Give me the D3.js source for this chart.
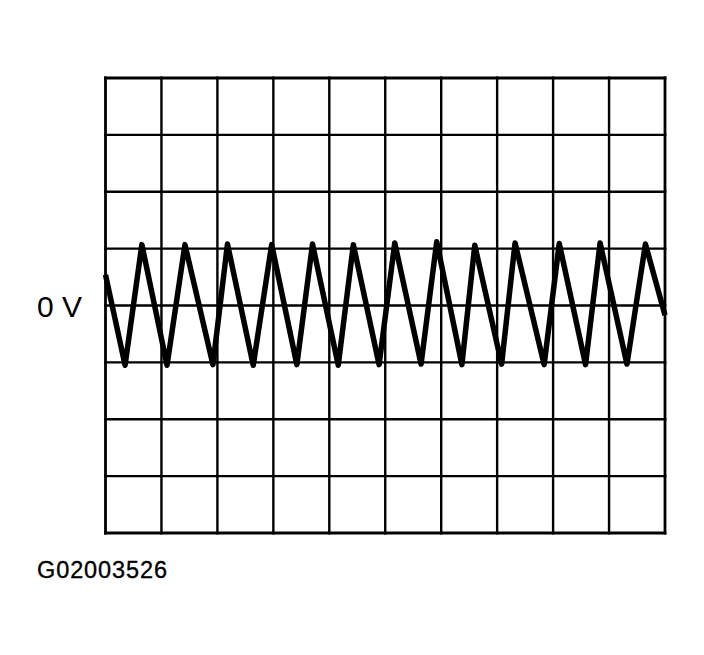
<!DOCTYPE html>
<html>
<head>
<meta charset="utf-8">
<script src="https://cdn.jsdelivr.net/npm/d3@7"></script>
<style>
  body { margin: 0; background: #fff; }
  svg { display: block; }
  text { font-family: "Liberation Sans", Arial, sans-serif; fill: #000; }
</style>
</head>
<body>
<svg id="chart"></svg>
<script>
// grid divisions (time and voltage)
const timeDivs = [0, 1, 2, 3, 4, 5, 6, 7, 8, 9, 10];
const voltDivs = [-4, -3, -2, -1, 0, 1, 2, 3, 4];

// waveform (x in divisions, y in divisions)
const waveX = [0, 0.35, 0.65, 1.10, 1.42, 1.92, 2.18, 2.64, 2.97, 3.42, 3.70, 4.16, 4.43, 4.89,
               5.17, 5.64, 5.92, 6.37, 6.60, 7.08, 7.32, 7.84, 8.11, 8.58, 8.84, 9.32, 9.65, 10.0];
const waveY = [0.54, -1.05, 1.07, -1.05, 1.07, -1.04, 1.08, -1.05, 1.07, -1.04, 1.08, -1.05, 1.07, -1.04,
               1.10, -1.03, 1.12, -1.04, 1.06, -1.03, 1.10, -1.04, 1.09, -1.04, 1.10, -1.03, 1.08, -0.17];

const zeroLabel = "0 V";
const figureId = "G02003526";

const width = 704, height = 655;
const svg = d3.select("#chart").attr("width", width).attr("height", height);

const x = d3.scaleLinear().domain([0, 10]).range([105.5, 665]);
const y = d3.scaleLinear().domain([-4, 4]).range([533, 78]);

// grid
svg.append("g")
    .selectAll("line")
    .data(timeDivs)
    .enter()
    .append("line")
    .attr("x1", d => x(d))
    .attr("x2", d => x(d))
    .attr("y1", y(-4) + 1.4)
    .attr("y2", y(4) - 1.4)
    .attr("stroke", "#000")
    .attr("stroke-width", d => (d === 0 || d === 10) ? 2.8 : 2.4);

svg.append("g")
    .selectAll("line")
    .data(voltDivs)
    .enter()
    .append("line")
    .attr("x1", x(0) - 1.4)
    .attr("x2", x(10) + 1.4)
    .attr("y1", d => y(d))
    .attr("y2", d => y(d))
    .attr("stroke", "#000")
    .attr("stroke-width", d => (d === -4 || d === 4) ? 2.8 : 2.4);

// waveform
const line = d3.line()
    .x(d => x(d[0]))
    .y(d => y(d[1]));

svg.append("path")
    .datum(d3.zip(waveX, waveY))
    .attr("d", line)
    .attr("fill", "none")
    .attr("stroke", "#000")
    .attr("stroke-width", 5.5)
    .attr("stroke-linejoin", "round");

// labels
svg.append("text")
    .attr("x", 37)
    .attr("y", y(0) + 11)
    .attr("font-size", 30)
    .text(zeroLabel);

svg.append("text")
    .attr("x", 37)
    .attr("y", 577.5)
    .attr("font-size", 23.5)
    .attr("textLength", 130)
    .attr("stroke", "#000")
    .attr("stroke-width", 0.35)
    .text(figureId);
</script>
</body>
</html>
